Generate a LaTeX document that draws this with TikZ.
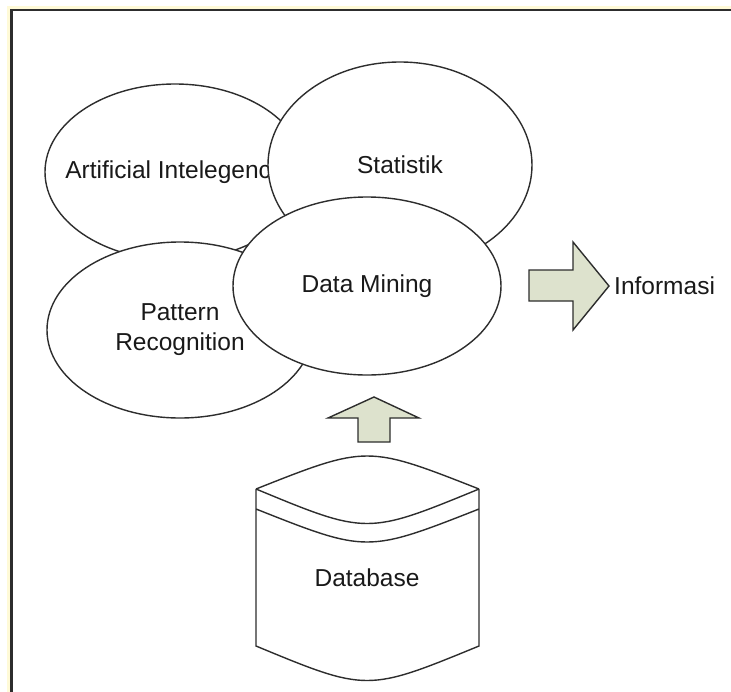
\documentclass[tikz,border=0pt]{standalone}
\usepackage{fontspec}
\setmainfont{Liberation Sans}
\usepackage{tikz}
\usetikzlibrary{shapes.geometric}
\definecolor{garis}{RGB}{45,45,45}
\definecolor{isipanah}{RGB}{221,226,205}
\definecolor{bingkai}{RGB}{255,250,215}
\tikzset{
	x=1pt, y=-1pt, % Coordenadas en puntos, y hacia abajo
	bidang/.style={ellipse, draw=garis, line width=1.4pt, fill=white, inner sep=0pt, text=black!90, align=center}, % Elipses de cada area
	panah/.style={draw=garis, line width=1.4pt, fill=isipanah, line join=miter}, % Flechas gruesas
	teks/.style={text=black!90, inner sep=0pt}, % Texto suelto
	every node/.style={font=\fontsize{24.5pt}{30pt}\selectfont}
}

\begin{document}
\begin{tikzpicture}
			\useasboundingbox (0,0) rectangle (731,691);
			\clip (0,0) rectangle (731,691);
			% marco
			\draw[bingkai, line width=3pt] (8.5,700) -- (8.5,7.5) -- (740,7.5);
			\draw[garis, line width=2.5pt] (11.5,700) -- (11.5,10) -- (740,10);
			% areas
			\node[bidang, minimum width=260, minimum height=176] (ai) at (175,172) {\makebox[0pt]{Artificial Intelegence}};
			\node[bidang, minimum width=264, minimum height=206] (stat) at (400,165) {Statistik};
			\node[bidang, minimum width=266, minimum height=176] (pr) at (180,330) {Pattern\\Recognition};
			\node[bidang, minimum width=268, minimum height=178] (dm) at (367,286) {Data Mining};
			% salida
			\node[teks, anchor=west] (info) at (614,286) {Informasi};
			\draw[panah] (529,270) -- (573,270) -- (573,242) -- (609,286) -- (573,330) -- (573,301) -- (529,301) -- cycle;
			% base de datos
			\node[teks] (db) at (367,578) {Database};
			\draw[line width=1.4pt, garis]
					(256,489) .. controls (367,445) .. (479,489)
					(256,489) .. controls (367,535) .. (479,489)
					(256,509) .. controls (367,553) .. (479,509)
					(256,489) -- (256,646) .. controls (367,692) .. (479,646) -- (479,489);
			\draw[panah] (374,397) -- (419,418) -- (390,418) -- (390,442) -- (358,442) -- (358,418) -- (328,418) -- cycle;
\end{tikzpicture}
\end{document}
